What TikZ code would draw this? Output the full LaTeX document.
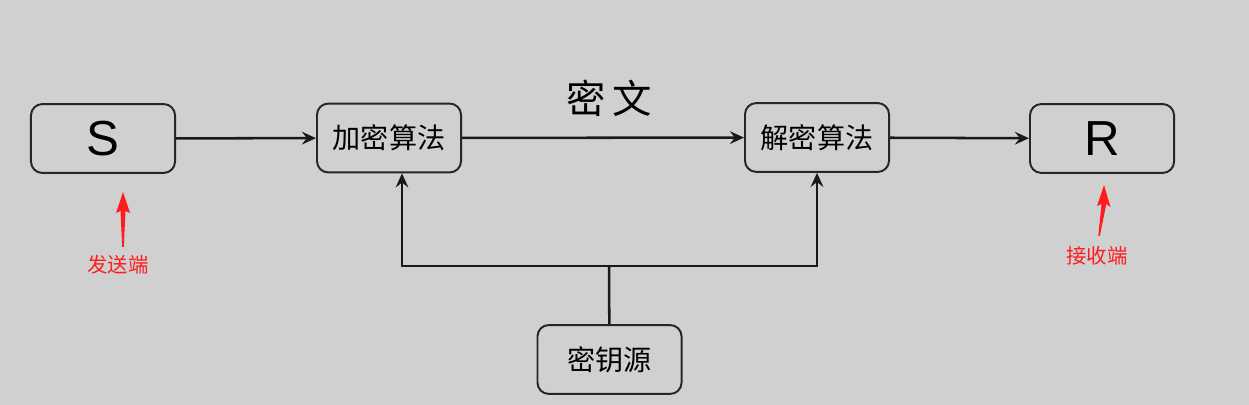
\documentclass[tikz,border=0pt]{standalone}
\usepackage{fontspec}
\setmainfont{Liberation Sans}
\newfontfamily\cjk{Noto Sans CJK SC}
\usetikzlibrary{arrows.meta}
\definecolor{bggray}{RGB}{208,208,208}
\definecolor{markred}{RGB}{255,28,28}
\tikzset{
  box/.style={draw=black!85, line width=1.4pt, rounded corners=8pt, fill=bggray,
    minimum width=3.6cm, minimum height=1.72cm, inner sep=0pt},
  link/.style={->, line width=1.8pt, black!90},
  mark/.style={red}
}
\begin{document}
\begin{tikzpicture}[x=0.025cm, y=-0.025cm, >={Stealth[length=10pt,width=9pt,inset=3.5pt]}]
    % 背景
    \fill[bggray] (0,0) rectangle (1249,405);
    \useasboundingbox (0,0) rectangle (1249,405);

    % 方框
    \node[box] (S) at (103,138.5) {\fontsize{35}{40}\selectfont S};
    \node[box] (enc) at (389,138) {\cjk\fontsize{20}{24}\selectfont 加密算法};
    \node[box] (dec) at (817,137.5) {\cjk\fontsize{20}{24}\selectfont 解密算法};
    \node[box] (R) at (1102,138.5) {\fontsize{35}{40}\selectfont R};
    \node[box] (key) at (609.5,359.5) {\cjk\fontsize{20}{24}\selectfont 密钥源};

    % 密文
    \node (cipher) at (609,98) {\cjk\fontsize{28}{32}\selectfont 密\hspace{5pt}文};

    % 主线箭头
    \draw[link] (S) -- (enc);
    \draw[link] (enc) -- (dec);
    \draw[link] (dec) -- (R);

    % 密钥分发
    \coordinate (fork) at (609,266);
    \draw[line width=1.8pt, black!90] (key) -- (fork);
    \draw[link] (fork) -| ([xshift=13*0.025cm]enc.south);
    \draw[link] (fork) -| (dec.south);

    % 红色标注
    \node[text=markred] (send) at (118,265) {\cjk\fontsize{14.5}{16}\selectfont 发送端};
    \node[text=markred] (recv) at (1097,256) {\cjk\fontsize{14.5}{16}\selectfont 接收端};
    \coordinate (stip) at (123,192);
    \coordinate (rtip) at (1104,185);
    \fill[markred] (stip) -- ++(-7,21) -- ++(4.5,-2) -- (122.2,247) -- (123.8,247) -- (125.5,211) -- (130,213) -- cycle;
    \fill[markred] (rtip) -- ++(-7,21) -- ++(4.5,-2) -- (1098.3,236) -- (1099.8,236) -- (1106.3,204) -- (1110.5,207) -- cycle;
\end{tikzpicture}
\end{document}
